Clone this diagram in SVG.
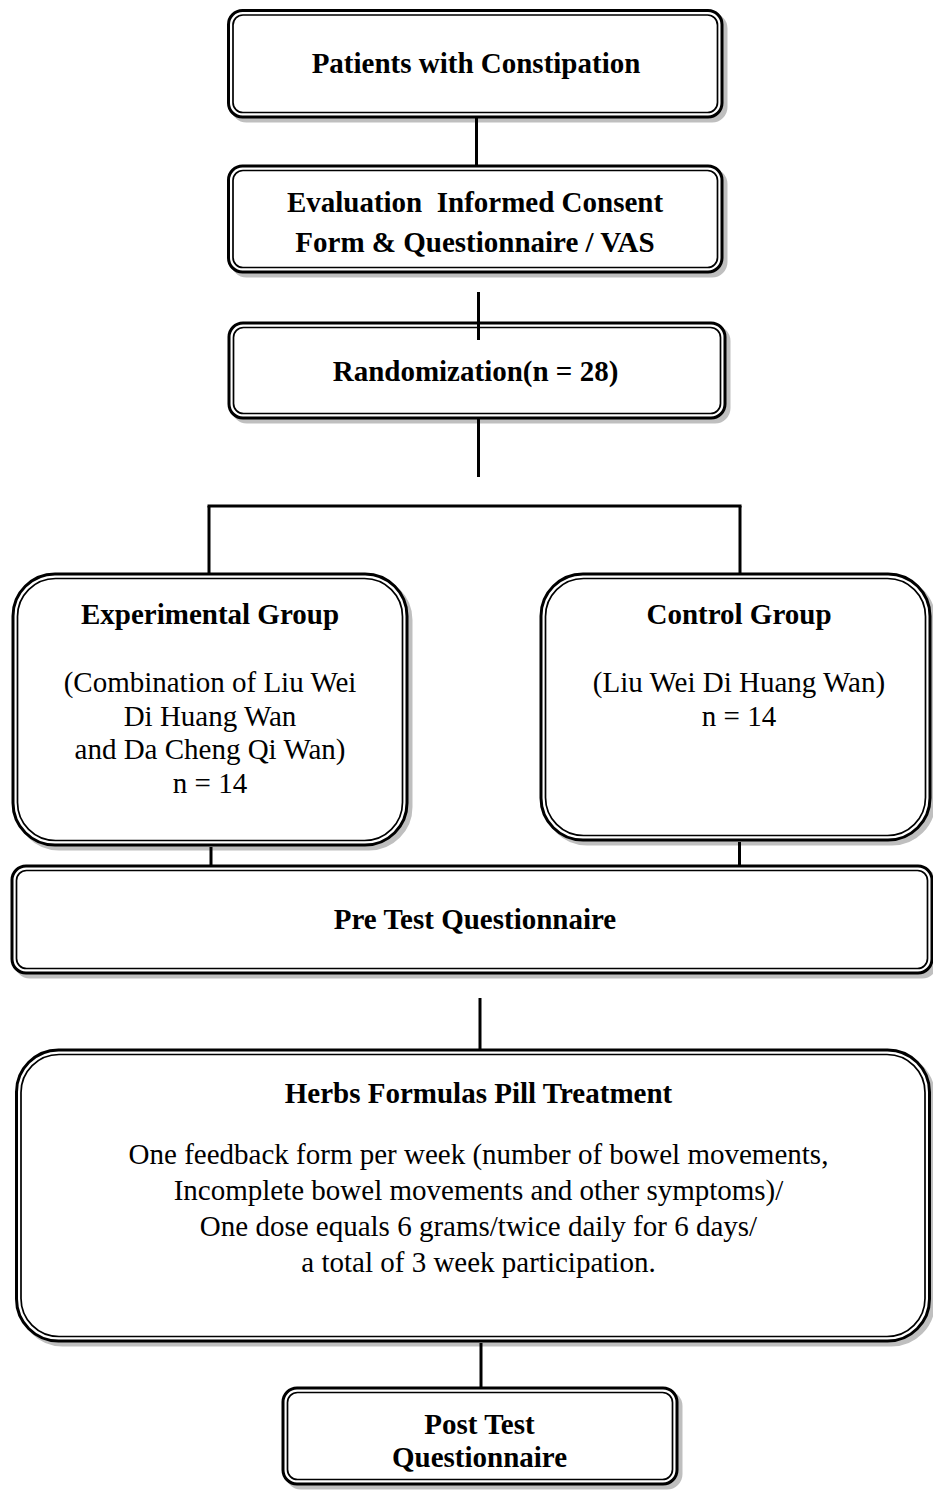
<svg xmlns="http://www.w3.org/2000/svg" width="933" height="1493" viewBox="0 0 933 1493">
<style>
.sh{fill:#bfbfbf;stroke:#bfbfbf;stroke-width:3}
.o{fill:#fff;stroke:#000;stroke-width:3}
.i{fill:none;stroke:#000;stroke-width:1.7}
.t{font-family:"Liberation Serif","Times New Roman",serif;font-size:29px;fill:#000;text-anchor:middle}
.b{font-weight:bold}
.c{stroke:#000;stroke-width:3;fill:none}
</style>
<rect x="0" y="0" width="933" height="1493" fill="#fff"/>

<g id="n1">
<rect class="sh" x="232.5" y="14.5" width="493.5" height="106.5" rx="14"/>
<rect class="o" x="228.5" y="10.5" width="493.5" height="106.5" rx="14"/>
<rect class="i" x="233" y="15" width="484.5" height="97.5" rx="10"/>
<text class="t b" x="476" y="73">Patients with Constipation</text>
</g>

<g id="n2">
<rect class="sh" x="232.5" y="170" width="493.5" height="106" rx="14"/>
<rect class="o" x="228.5" y="166" width="493.5" height="106" rx="14"/>
<rect class="i" x="233" y="170.5" width="484.5" height="97" rx="10"/>
<text class="t b" x="475" y="212" xml:space="preserve">Evaluation  Informed Consent</text>
<text class="t b" x="475" y="252">Form &amp; Questionnaire / VAS</text>
</g>

<g id="n3">
<rect class="sh" x="233" y="327" width="496" height="95" rx="14"/>
<rect class="o" x="229" y="323" width="496" height="95" rx="14"/>
<rect class="i" x="233.5" y="327.5" width="487" height="86" rx="10"/>
<text class="t b" x="475.5" y="381">Randomization(n = 28)</text>
</g>

<g id="n4">
<rect class="sh" x="17" y="578" width="394" height="271" rx="42"/>
<rect class="o" x="13" y="574" width="394" height="271" rx="42"/>
<rect class="i" x="17.5" y="578.5" width="385" height="262" rx="38"/>
<text class="t b" x="210" y="624">Experimental Group</text>
<text class="t" x="210" y="692">(Combination of Liu Wei</text>
<text class="t" x="210" y="726">Di Huang Wan</text>
<text class="t" x="210" y="759">and Da Cheng Qi Wan)</text>
<text class="t" x="210" y="793">n = 14</text>
</g>

<g id="n5">
<rect class="sh" x="545" y="578" width="389" height="266" rx="42"/>
<rect class="o" x="541" y="574" width="389" height="266" rx="42"/>
<rect class="i" x="545.5" y="578.5" width="380" height="257" rx="38"/>
<text class="t b" x="739" y="624">Control Group</text>
<text class="t" x="739" y="692">(Liu Wei Di Huang Wan)</text>
<text class="t" x="739" y="726">n = 14</text>
</g>

<g id="n6">
<rect class="sh" x="16" y="870" width="920" height="107" rx="14"/>
<rect class="o" x="12" y="866" width="920" height="107" rx="14"/>
<rect class="i" x="16.5" y="870.5" width="911" height="98" rx="10"/>
<text class="t b" x="475" y="929">Pre Test Questionnaire</text>
</g>

<g id="n7">
<rect class="sh" x="20.5" y="1054" width="913" height="291" rx="42"/>
<rect class="o" x="16.5" y="1050" width="913" height="291" rx="42"/>
<rect class="i" x="21" y="1054.5" width="904" height="282" rx="38"/>
<text class="t b" x="478.5" y="1103">Herbs Formulas Pill Treatment</text>
<text class="t" x="478.5" y="1164">One feedback form per week (number of bowel movements,</text>
<text class="t" x="478.5" y="1200">Incomplete bowel movements and other symptoms)/</text>
<text class="t" x="478.5" y="1236">One dose equals 6 grams/twice daily for 6 days/</text>
<text class="t" x="478.5" y="1272">a total of 3 week participation.</text>
</g>

<g id="n8">
<rect class="sh" x="287" y="1392" width="394" height="96" rx="14"/>
<rect class="o" x="283" y="1388" width="394" height="96" rx="14"/>
<rect class="i" x="287.5" y="1392.5" width="385" height="87" rx="10"/>
<text class="t b" x="479.5" y="1434">Post Test</text>
<text class="t b" x="479.5" y="1467">Questionnaire</text>
</g>

<g id="connectors">
<line class="c" x1="476.5" y1="118" x2="476.5" y2="165"/>
<line class="c" x1="478.5" y1="292" x2="478.5" y2="340"/>
<line class="c" x1="478.5" y1="419" x2="478.5" y2="477"/>
<line class="c" x1="207.5" y1="506" x2="741.5" y2="506"/>
<line class="c" x1="209" y1="506" x2="209" y2="573"/>
<line class="c" x1="740" y1="506" x2="740" y2="573"/>
<line class="c" x1="211" y1="847" x2="211" y2="866"/>
<line class="c" x1="739.5" y1="842" x2="739.5" y2="866"/>
<line class="c" x1="480" y1="998" x2="480" y2="1049"/>
<line class="c" x1="481" y1="1343" x2="481" y2="1387"/>
</g>
</svg>
